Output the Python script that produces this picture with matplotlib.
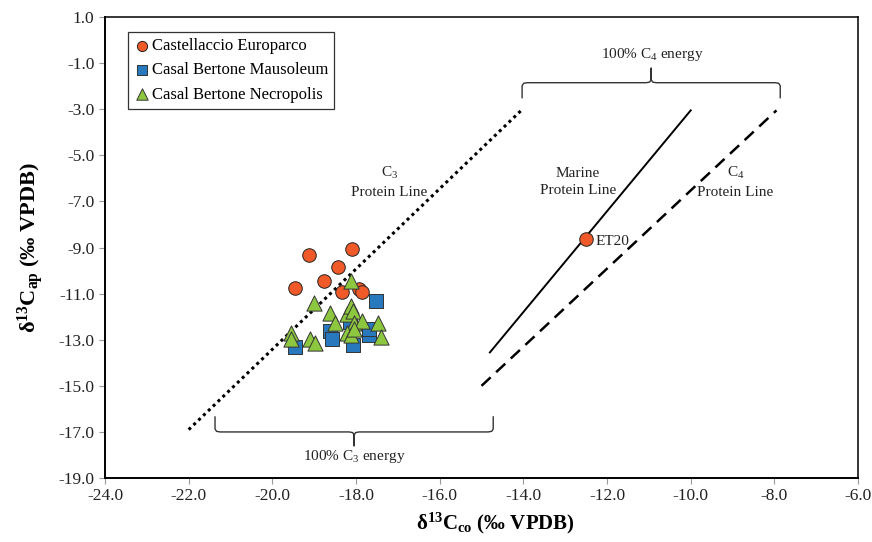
import numpy as np
import matplotlib
matplotlib.use("Agg")
from matplotlib import pyplot as plt
import matplotlib.ticker as ticker

plt.rcParams['font.family'] = ['Liberation Serif', 'DejaVu Serif']
plt.rcParams['mathtext.fontset'] = 'custom'
plt.rcParams['mathtext.rm'] = 'Liberation Serif'
plt.rcParams['mathtext.it'] = 'Liberation Serif:italic'
plt.rcParams['mathtext.bf'] = 'Liberation Serif:bold'
plt.rcParams['axes.unicode_minus'] = False

# Castellaccio Europarco (last one is ET20)
ce_x = [-19.47, -19.12, -18.76, -18.44, -18.10, -18.34, -17.94, -17.86, -12.5]
ce_y = [-10.74, -9.34, -10.44, -9.85, -9.05, -10.94, -10.81, -10.93, -8.63]

# Casal Bertone Mausoleum
cbm_x = [-17.52, -19.46, -18.62, -18.57, -17.70, -18.08, -18.14, -17.68]
cbm_y = [-11.34, -13.33, -12.62, -12.95, -12.80, -13.22, -12.22, -12.55]

# Casal Bertone Necropolis
cbn_x = [-19.0, -19.55, -19.55, -19.10, -18.99, -18.62, -18.50, -18.22, -18.13,
         -18.08, -18.04, -17.86, -17.47, -17.41, -18.22, -18.13, -18.12, -18.05]
cbn_y = [-11.39, -12.70, -12.95, -12.98, -13.16, -11.83, -12.29, -11.89, -11.54,
         -11.75, -12.29, -12.19, -12.29, -12.90, -12.72, -12.80, -10.47, -12.55]

# reference lines (x pairs, y pairs)
c3_line = ([-22.0, -14.05], [-16.9, -3.05])
marine_line = ([-14.8, -10.0], [-13.55, -3.05])
c4_line = ([-15.0, -7.95], [-15.0, -3.05])

x_ticks = np.arange(-24, -5, 2)
y_ticks = np.arange(-19, 2, 2)

fig = plt.figure(figsize=(8.72, 5.42), dpi=100)
ax = fig.add_axes([0.1204, 0.118, 0.8636, 0.8506])

ax.plot(*c3_line, color='black', linestyle=(0, (1, 1.2)), linewidth=2.2)
ax.plot(*marine_line, color='black', linestyle='-', linewidth=1.4)
ax.plot(*c4_line, color='black', linestyle=(0, (5, 3)), linewidth=1.8)

ax.scatter(ce_x, ce_y, s=95, marker='o', color='#F05A28', edgecolor='#222222',
           linewidth=0.7, zorder=3, label='Castellaccio Europarco')
ax.scatter(cbm_x, cbm_y, s=95, marker='s', color='#2878BE', edgecolor='#333333',
           linewidth=0.7, zorder=4, label='Casal Bertone Mausoleum')
ax.scatter(cbn_x, cbn_y, s=120, marker='^', color='#8DC63F', edgecolor='#333333',
           linewidth=0.7, zorder=5, label='Casal Bertone Necropolis')


def bracket(x0, x1, yh, yend, ytip, r=0.12):
    # curly brace: ends go to yend, middle tip goes to ytip
    xm = (x0 + x1) / 2
    s = np.sign(yend - yh)
    ry = r * 0.55 * 2
    xs = [x0, x0, x0 + r * 0.3, x0 + r, xm - r, xm - r * 0.3, xm, xm,
          xm, xm + r * 0.3, xm + r, x1 - r, x1 - r * 0.3, x1, x1]
    ys = [yend, yh + s * ry, yh + s * ry * 0.2, yh, yh, yh - s * ry * 0.2, yh - s * ry, ytip,
          yh - s * ry, yh - s * ry * 0.2, yh, yh, yh + s * ry * 0.2, yh + s * ry, yend]
    ax.plot(xs, ys, color='#333333', linewidth=1.0, solid_joinstyle='round')


bracket(-21.37, -14.72, -17.0, -16.35, -17.6)
bracket(-14.03, -7.86, -1.85, -2.5, -1.22)

txt = dict(fontsize=11, color='#222222')
ax.text(-18.05, -18.05, '100% C$_3$ energy', ha='center', va='center', **txt)
ax.text(-10.92, -0.62, '100% C$_4$ energy', ha='center', va='center', **txt)
ax.text(-17.2, -6.15, 'C$_3$\nProtein Line', ha='center', va='center', linespacing=1.45, **txt)
ax.text(-12.7, -6.15, 'Marine\nProtein Line', ha='center', va='center', linespacing=1.45, **txt)
ax.text(-8.93, -6.15, 'C$_4$\nProtein Line', ha='center', va='center', linespacing=1.45, **txt)
ax.text(-12.27, -8.72, 'ET20', ha='left', va='center', **txt)

ax.set_xlim(-24, -6)
ax.set_ylim(-19, 1)
ax.set_xticks(x_ticks)
ax.set_yticks(y_ticks)
ax.xaxis.set_major_formatter(ticker.StrMethodFormatter('{x:.1f}'))
ax.yaxis.set_major_formatter(ticker.StrMethodFormatter('{x:.1f}'))
ax.tick_params(axis='both', labelsize=12.5, length=4, width=0.8, color='#999999',
               direction='out', labelcolor='#222222')
for sp in ax.spines.values():
    sp.set_linewidth(1.1)
ax.spines['left'].set_linewidth(1.4)
ax.spines['bottom'].set_linewidth(1.4)

ax.set_xlabel('δ$^{\\mathbf{13}}$C$_{\\mathbf{co}}$ (‰ VPDB)', fontsize=15,
              fontweight='bold')
ax.xaxis.set_label_coords(0.518, -0.072)
ax.set_ylabel('δ$^{\\mathbf{13}}$C$_{\\mathbf{ap}}$ (‰ VPDB)', fontsize=16,
              fontweight='bold', labelpad=9)

leg = ax.legend(loc='upper left', bbox_to_anchor=(0.0305, 0.967), borderaxespad=0,
                fontsize=12, frameon=True, fancybox=False, handletextpad=0.1,
                handlelength=1.0, markerscale=0.75, borderpad=0.35, labelspacing=0.5)
leg.get_frame().set_edgecolor('black')
leg.get_frame().set_linewidth(0.9)

fig.savefig('out.png', dpi=100)
